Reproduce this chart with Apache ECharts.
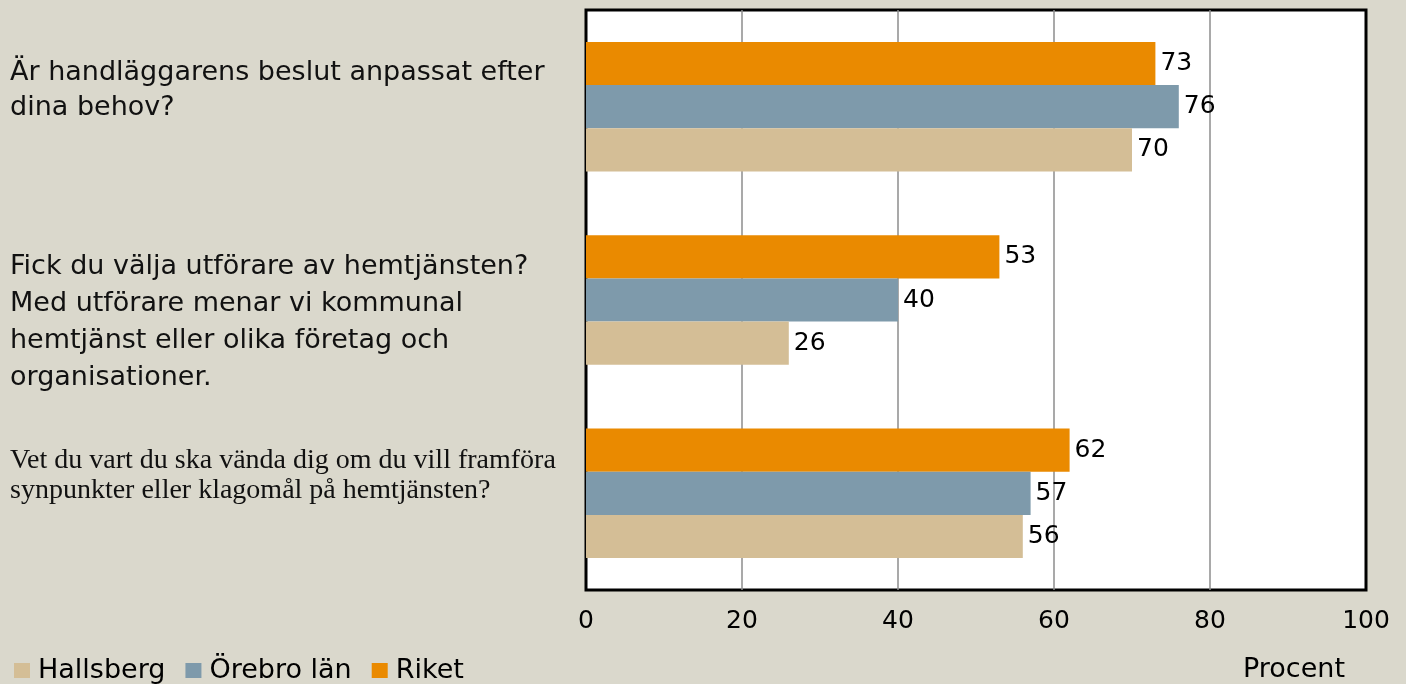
<!DOCTYPE html>
<html>
<head>
<meta charset="utf-8">
<script src="https://cdn.jsdelivr.net/npm/echarts@6/dist/echarts.min.js"></script>
<style>
  html, body { margin: 0; padding: 0; background: #dad8cc; }
  #chart { width: 1406px; height: 684px; }
</style>
</head>
<body>
<div id="chart"></div>
<script>
// frågor (kategorier), uppifrån och ned
var questions = [
  'Är handläggarens beslut anpassat efter\ndina behov?',
  'Fick du välja utförare av hemtjänsten?\nMed utförare menar vi kommunal\nhemtjänst eller olika företag och\norganisationer.',
  'Vet du vart du ska vända dig om du vill framföra\nsynpunkter eller klagomål på hemtjänsten?'
];
var riket = [73, 53, 62];
var orebroLan = [76, 40, 57];
var hallsberg = [70, 26, 56];
var legendNames = ['Hallsberg', 'Örebro län', 'Riket'];
var xTicks = [0, 20, 40, 60, 80, 100];

var sans = 'DejaVu Sans';
var chart = echarts.init(document.getElementById('chart'));

// etiketternas stil per fråga (tredje frågan är i serif i originalet)
var labelStyle = [
  { font: '27px "' + sans + '"', lineHeight: 35, dy: -16 },
  { font: '27px "' + sans + '"', lineHeight: 37, dy: 22 },
  { font: '28px "Liberation Serif"', lineHeight: 30, dy: -18 }
];

function barSeries(name, data, color) {
  return {
    name: name,
    type: 'bar',
    data: data,
    barGap: 0,
    barCategoryGap: '33%',
    itemStyle: { color: color },
    label: {
      show: true,
      position: 'right',
      distance: 5,
      color: '#000',
      fontSize: 25,
      fontFamily: sans
    }
  };
}

chart.setOption({
  backgroundColor: '#dad8cc',
  animation: false,
  grid: {
    left: 586, right: 40, top: 10, bottom: 94,
    show: true,
    backgroundColor: '#fff',
    borderColor: '#000',
    borderWidth: 3
  },
  legend: {
    data: legendNames,
    left: 9, top: 652,
    itemWidth: 16, itemHeight: 15,
    itemGap: 20,
    icon: 'rect',
    textStyle: { fontSize: 27, fontFamily: sans, color: '#000', padding: [0, 0, 0, 3] }
  },
  xAxis: {
    type: 'value',
    min: xTicks[0], max: xTicks[xTicks.length - 1], interval: 20,
    name: 'Procent',
    nameLocation: 'end',
    nameGap: 0,
    nameTextStyle: {
      fontSize: 27, fontFamily: sans, color: '#000',
      align: 'right', verticalAlign: 'top',
      padding: [66, 21, 0, 0]
    },
    axisLine: { show: false },
    axisTick: { show: false },
    axisLabel: { fontSize: 25, fontFamily: sans, color: '#000', margin: 19 },
    splitLine: {
      show: true,
      showMinLine: false,
      showMaxLine: false,
      lineStyle: { color: '#8c8c8c', width: 1.5 }
    }
  },
  yAxis: {
    type: 'category',
    inverse: true,
    data: questions,
    axisLine: { show: false },
    axisTick: { show: false },
    axisLabel: { show: false },
    splitLine: { show: false }
  },
  series: [
    barSeries('Riket', riket, '#ea8a00'),
    barSeries('Örebro län', orebroLan, '#7e9aab'),
    barSeries('Hallsberg', hallsberg, '#d4be96')
  ]
});

// frågetexterna vänsterställda vid kanten, placerade via kategoriaxeln
var texts = questions.map(function (q, i) {
  var y = chart.convertToPixel({ yAxisIndex: 0 }, i);
  var st = labelStyle[i];
  return {
    type: 'text',
    x: 10,
    y: y + st.dy,
    style: {
      text: q,
      font: st.font,
      fill: '#111',
      lineHeight: st.lineHeight,
      verticalAlign: 'middle',
      align: 'left'
    }
  };
});
chart.setOption({ graphic: texts });
</script>
</body>
</html>
